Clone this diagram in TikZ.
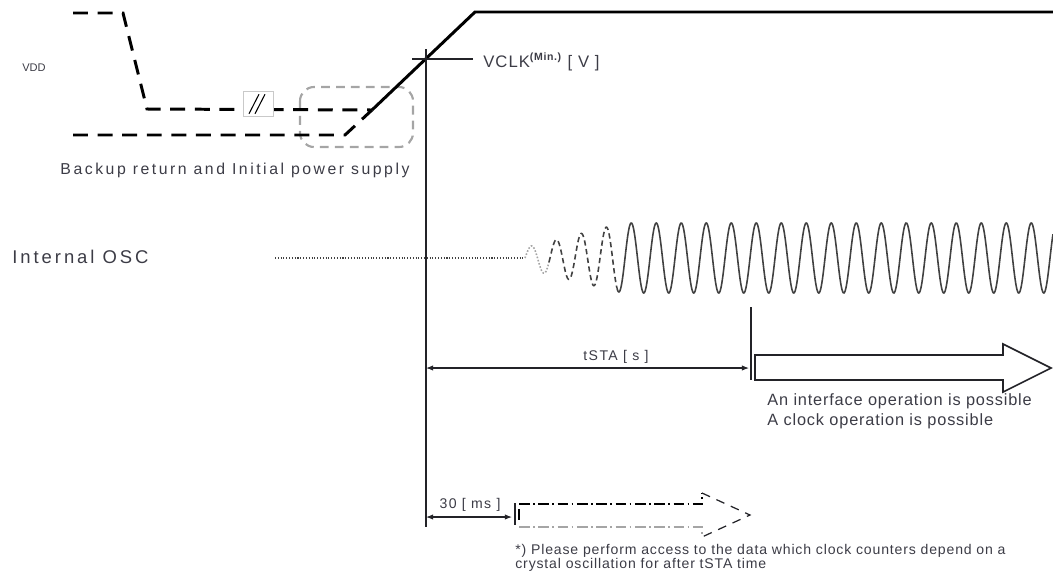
\documentclass[tikz,border=0pt]{standalone}
\usepackage{fontspec}
\setmainfont{Liberation Sans}
\usepackage{tikz}
\usetikzlibrary{arrows.meta, positioning, calc}
\definecolor{mydark}{RGB}{35,35,40}
\definecolor{mytext}{RGB}{60,60,70}
\definecolor{mygrey}{RGB}{165,165,165}
\definecolor{wavegrey}{RGB}{65,65,65}
\tikzset{
  lbl/.style={inner sep=0pt, text=mytext, font=\fontsize{8.5}{10}\selectfont},
  widelbl/.style={inner sep=0pt, text=mytext, font=\addfontfeature{LetterSpace=16}\fontsize{9}{10}\selectfont},
  smalllbl/.style={inner sep=0pt, text=mytext, font=\addfontfeature{LetterSpace=10}\fontsize{8}{9}\selectfont},
  notelbl/.style={inner sep=0pt, text=mytext, anchor=west, font=\addfontfeature{LetterSpace=6}\fontsize{8}{9}\selectfont},
  vddsolid/.style={line width=1.7pt, color=black},
  vdddash/.style={line width=1.7pt, color=black, dash pattern=on 8.5pt off 5.5pt},
  greybox/.style={line width=1.2pt, color=mygrey, dash pattern=on 5pt off 3.5pt, rounded corners=8pt},
  thinline/.style={line width=0.8pt, color=mydark},
  wave/.style={line width=0.9pt, color=wavegrey},
  dimarrow/.style={{Latex[length=4pt,width=3pt]}-{Latex[length=4pt,width=3pt]}, line width=0.6pt, color=mydark},
  bigarrow/.style={line width=0.9pt, color=mydark, fill=white},
  declare function={oscamp(\t)=min(35,12+(\t-531)*0.25);
                    osc(\t)=258-oscamp(\t)*sin(14.4*(\t-525));}
}

\begin{document}
\begin{tikzpicture}[x=0.02cm, y=-0.02cm]
  \useasboundingbox (0,0) rectangle (1053,578);

  % VDD curves
  \coordinate (up0) at (73,13);
  \coordinate (up1) at (123,13);
  \coordinate (up2) at (147,109);
  \coordinate (lo0) at (73,135);
  \coordinate (lo1) at (345,135);
  \coordinate (rise) at (372,110);
  \coordinate (top) at (475,12);
  \coordinate (topend) at (1053,12);
  \node[lbl, anchor=west, font=\fontsize{6.3}{7}\selectfont] (vdd) at (22,68) {VDD};
  \draw[greybox] (300,87) rectangle (413,147);
  \draw[vdddash] (up0) -- (up1) -- (up2) -- (rise);
  \draw[vdddash] (lo0) -- (lo1) -- (rise);
  \draw[vddsolid] (rise) -- (top) -- (topend);

  % break mark
  \node[draw=mygrey!60, line width=0.3pt, fill=white, minimum width=0.6cm, minimum height=0.5cm, inner sep=0pt] (brk) at (258,104) {};
  \draw[line width=0.6pt] ($(brk.south)+(-9,-3)$) -- ($(brk.north)+(1,3)$);
  \draw[line width=0.6pt] ($(brk.south)+(-3,-3)$) -- ($(brk.north)+(7,3)$);

  \node[widelbl] (backup) at (235,170) {Backup return and Initial power supply};

  % VCLK crossing
  \coordinate (vclk) at (426,59);
  \coordinate (vtop) at (426,49);
  \coordinate (vbot) at (426,527);
  \draw[thinline] (vtop) -- (vbot);
  \draw[thinline] ($(vclk)+(-14,0)$) -- ($(vclk)+(47,0)$);
  \node[lbl, anchor=west, font=\addfontfeature{LetterSpace=6}\fontsize{9.5}{11}\selectfont] (vclklbl) at (483,62) {VCLK\textsuperscript{\bfseries\fontsize{6}{7}\selectfont(Min.)} [ V ]};

  % Internal OSC
  \node[lbl, anchor=west, font=\addfontfeature{LetterSpace=16}\fontsize{10.5}{12}\selectfont] (osc) at (12,257) {Internal OSC};
  \coordinate (osc0) at (275,258);
  \coordinate (osc1) at (525,258);
  \draw[line width=0.6pt, color=wavegrey, densely dotted] (osc0) -- (osc1);
  \draw[wave, color=mygrey, densely dotted] plot[domain=525:549, samples=60, smooth, variable=\x] (\x, {osc(\x)});
  \draw[wave, dash pattern=on 3pt off 2pt] plot[domain=549:617, samples=150, smooth, variable=\x] (\x, {osc(\x)});
  \draw[wave] plot[domain=617:1053, samples=900, smooth, variable=\x] (\x, {osc(\x)});

  % tSTA
  \draw[thinline] (751,307) -- (751,380);
  \draw[dimarrow] (426,368) -- (749,368);
  \node[smalllbl] (tstalbl) at (616,357) {tSTA [ s ]};
  \draw[bigarrow] (755,355) -- (1003,355) -- (1003,344) -- (1051,368) -- (1003,392) -- (1003,380) -- (755,380) -- cycle;
  \node[lbl, anchor=west, font=\addfontfeature{LetterSpace=5}\fontsize{9.3}{11}\selectfont] (iface) at (767,401) {An interface operation is possible};
  \node[lbl, anchor=west, font=\addfontfeature{LetterSpace=5}\fontsize{9.3}{11}\selectfont] (clock) at (767,421) {A clock operation is possible};

  % 30 ms
  \draw[dimarrow] (426,517) -- (512,517);
  \draw[thinline] (515,503) -- (515,525);
  \node[smalllbl] (mslbl) at (470,505) {30 [ ms ]};
  \draw[line width=0.7pt, dash pattern=on 6pt off 2pt on 1pt off 2pt] (519,504) -- (702,504) -- (702,493);
  \draw[line width=0.7pt, color=mygrey, dash pattern=on 6pt off 2pt on 1pt off 2pt] (519,527) -- (702,527) -- (702,537);
  \draw[line width=0.7pt, color=mydark, dash pattern=on 5pt off 4pt] (702,493) -- (750,515) -- (702,537);
  \draw[line width=0.7pt] (519,509) -- (519,520);

  % footnote
  \node[notelbl] (note1) at (515,551) {*) Please perform access to the data which clock counters depend on a};
  \node[notelbl] (note2) at (515,565) {crystal oscillation for after tSTA time};
\end{tikzpicture}
\end{document}
